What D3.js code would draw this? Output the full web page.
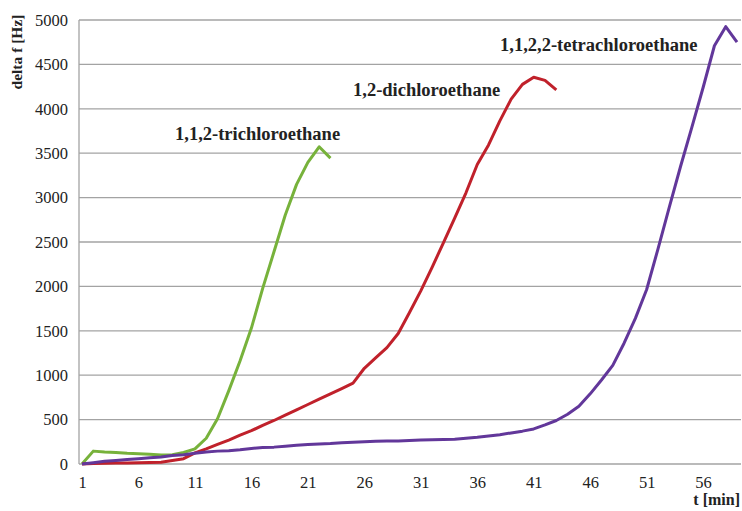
<!DOCTYPE html>
<html>
<head>
<meta charset="utf-8">
<script src="https://cdn.jsdelivr.net/npm/d3@7"></script>
<style>
  body { margin: 0; background: #fff; }
  svg { display: block; }
  svg text { font-family: "Liberation Serif", "Times New Roman", "DejaVu Serif", serif; }
</style>
</head>
<body>
<svg id="chart" width="742" height="511"></svg>
<script>
// minutes on the category axis, labelled every 5th
const minutes = d3.range(1, 60);
const xTicks = [1, 6, 11, 16, 21, 26, 31, 36, 41, 46, 51, 56];
const yTicks = [0, 500, 1000, 1500, 2000, 2500, 3000, 3500, 4000, 4500, 5000];

const trichloro = [0, 145, 135, 130, 120, 115, 110, 100, 105, 130, 170, 290, 510, 826, 1163, 1531,
  1978, 2390, 2804, 3149, 3397, 3572, 3445];

const dichloro = [0, 5, 8, 10, 12, 14, 16, 20, 40, 60, 125, 170, 220, 270, 325, 375, 435, 490,
  550, 610, 670, 730, 790, 850, 910, 1078, 1195, 1310, 1470, 1707, 1950, 2215, 2490, 2769, 3054,
  3372, 3593, 3864, 4109, 4275, 4355, 4320, 4212];

const tetrachloro = [0, 15, 30, 40, 50, 60, 70, 80, 95, 105, 120, 135, 145, 150, 160, 175, 185,
  190, 200, 210, 220, 225, 230, 240, 245, 250, 255, 258, 260, 265, 270, 272, 275, 280, 290, 300,
  315, 330, 350, 370, 395, 440, 490, 560, 650, 790, 946, 1110, 1360, 1640, 1965, 2420, 2890, 3350,
  3790, 4240, 4710, 4925, 4750];

const series = [
  { name: '1,1,2-trichloroethane', values: trichloro, color: '#77b23b', lx: 175, ly: 140 },
  { name: '1,2-dichloroethane', values: dichloro, color: '#c0212b', lx: 353, ly: 96 },
  { name: '1,1,2,2-tetrachloroethane', values: tetrachloro, color: '#62379a', lx: 500, ly: 51 }
];

const svg = d3.select('#chart');
const plotLeft = 79, plotRight = 741, plotTop = 20, plotBottom = 464;

const x = d3.scaleLinear().domain([1, 59]).range([82, 737]);
const y = d3.scaleLinear().domain([0, 5000]).range([plotBottom, plotTop]);

// horizontal gridlines
svg.append('g').selectAll('line').data(yTicks).enter().append('line')
  .attr('x1', plotLeft).attr('x2', plotRight)
  .attr('y1', d => y(d)).attr('y2', d => y(d))
  .attr('stroke', '#a3a3a3').attr('stroke-width', 1.3);

// left axis line
svg.append('line')
  .attr('x1', plotLeft).attr('x2', plotLeft).attr('y1', plotTop).attr('y2', plotBottom)
  .attr('stroke', '#a3a3a3').attr('stroke-width', 1.3);

const yAxis = svg.append('g').attr('transform', `translate(${plotLeft},0)`)
  .call(d3.axisLeft(y).tickValues(yTicks).tickFormat(d3.format('d')).tickSize(0).tickPadding(11));
yAxis.select('.domain').remove();
yAxis.attr('font-family', null).attr('font-size', null);
yAxis.selectAll('text').attr('font-size', 16.5).attr('fill', '#222');

const xAxis = svg.append('g').attr('transform', `translate(0,${plotBottom})`)
  .call(d3.axisBottom(x).tickValues(xTicks).tickFormat(d3.format('d')).tickSize(0).tickPadding(12));
xAxis.select('.domain').remove();
xAxis.attr('font-family', null).attr('font-size', null);
xAxis.selectAll('text').attr('font-size', 16.5).attr('fill', '#222');

const line = d3.line()
  .x((d, i) => x(minutes[i]))
  .y(d => y(d));

series.forEach(s => {
  svg.append('path')
    .datum(s.values)
    .attr('d', line)
    .attr('fill', 'none')
    .attr('stroke', s.color)
    .attr('stroke-width', 3)
    .attr('stroke-linejoin', 'round');

  svg.append('text')
    .attr('x', s.lx).attr('y', s.ly)
    .attr('font-size', 18.5).attr('font-weight', 'bold').attr('fill', '#222')
    .text(s.name);
});

// axis titles
svg.append('text')
  .attr('transform', 'translate(22,52) rotate(-90)')
  .attr('text-anchor', 'middle')
  .attr('font-size', 15.5).attr('font-weight', 'bold').attr('fill', '#222')
  .text('delta f [Hz]');

svg.append('text')
  .attr('x', 740).attr('y', 505)
  .attr('text-anchor', 'end')
  .attr('font-size', 16).attr('font-weight', 'bold').attr('fill', '#222')
  .text('t [min]');
</script>
</body>
</html>
